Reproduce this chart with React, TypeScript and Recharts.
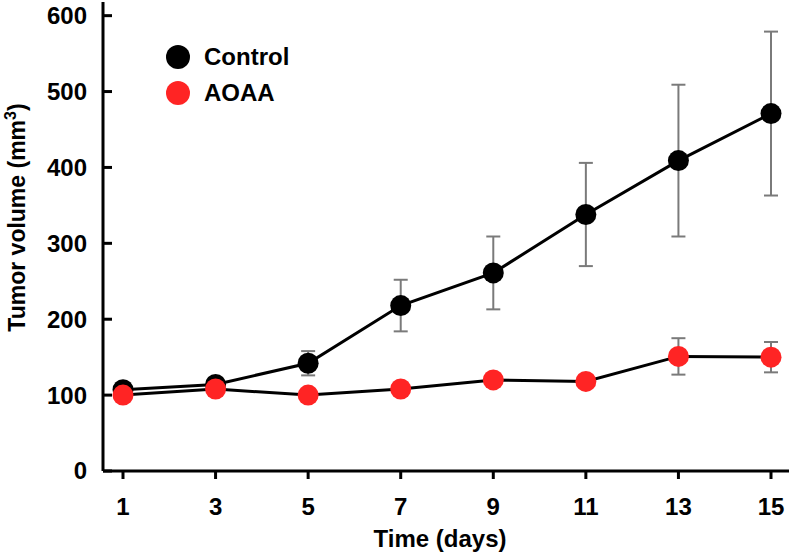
import React from 'react'
import { LineChart, Line, XAxis, YAxis, ErrorBar, Legend } from 'recharts'

const days = [1, 3, 5, 7, 9, 11, 13, 15]
const controlMean = [107, 114, 142, 218, 261, 338, 409, 471]
const controlErr = [4, 5, 16, 34, 48, 68, 100, 108]
const aoaaMean = [100, 108, 100, 108, 120, 118, 151, 150]
const aoaaErr = [3, 4, 3, 4, 5, 4, 24, 20]
const yTicks = [0, 100, 200, 300, 400, 500, 600]

const seriesNames = ['Control', 'AOAA']
const seriesColors = ['#000000', '#ff2424']

const FONT = '"Liberation Sans", Arial, Helvetica, sans-serif'

const data = days.map((day, i) => ({
  day,
  control: controlMean[i],
  controlErr: controlErr[i],
  aoaa: aoaaMean[i],
  aoaaErr: aoaaErr[i],
}))

function YTick(props: any) {
  const { x, y, payload } = props
  return (
    <g>
      <line x1={x + 16} x2={x + 25} y1={y} y2={y} stroke="#000" strokeWidth={3} />
      <text x={x} y={y} dy="0.35em" textAnchor="end" fontSize={24} fontWeight="bold" fontFamily={FONT} fill="#000">
        {payload.value}
      </text>
    </g>
  )
}

function YTitle(props: any) {
  const vb = props.viewBox || { x: 0, y: 2, width: 103, height: 469 }
  const cx = 25
  const cy = vb.y + vb.height / 2 - 19
  return (
    <text
      x={cx}
      y={cy}
      transform={`rotate(-90 ${cx} ${cy})`}
      textAnchor="middle"
      fontSize={23}
      fontWeight="bold"
      fontFamily={FONT}
      fill="#000"
    >
      Tumor volume (mm<tspan fontSize={16} dy={-9}>3</tspan><tspan dy={9}>)</tspan>
    </text>
  )
}

function XTitle(props: any) {
  const vb = props.viewBox || { x: 103, y: 471, width: 686, height: 85 }
  return (
    <text
      x={vb.x + vb.width / 2 - 6}
      y={vb.y + vb.height - 9}
      textAnchor="middle"
      fontSize={24}
      fontWeight="bold"
      fontFamily={FONT}
      fill="#000"
    >
      Time (days)
    </text>
  )
}

function LegendBox() {
  return (
    <div style={{ fontFamily: FONT, fontWeight: 'bold', fontSize: 24, color: '#000' }}>
      {seriesNames.map((name, i) => (
        <div key={name} style={{ display: 'flex', alignItems: 'center', height: 36 }}>
          <span
            style={{
              display: 'inline-block',
              width: 24,
              height: 24,
              borderRadius: 12,
              background: seriesColors[i],
              marginRight: 14,
            }}
          />
          <span>{name}</span>
        </div>
      ))}
    </div>
  )
}

export default function App() {
  return (
    <div style={{ position: 'absolute', left: 0, top: 0, fontFamily: FONT, background: '#fff' }}>
      <LineChart width={792} height={556} data={data} margin={{ top: 2, right: 3, bottom: 0, left: 0 }}>
        <XAxis
          type="number"
          dataKey="day"
          domain={[1, 15]}
          ticks={days}
          padding={{ left: 20, right: 18 }}
          height={85}
          tickSize={8}
          tickMargin={19}
          axisLine={{ stroke: '#000', strokeWidth: 3 }}
          tickLine={{ stroke: '#000', strokeWidth: 3 }}
          tick={{ fontSize: 24, fontWeight: 'bold', fill: '#000', fontFamily: FONT }}
          label={<XTitle />}
        />
        <YAxis
          type="number"
          domain={[0, 618]}
          ticks={yTicks}
          width={103}
          tickSize={8}
          tickMargin={8}
          axisLine={{ stroke: '#000', strokeWidth: 3 }}
          tickLine={false}
          tick={<YTick />}
          label={<YTitle />}
        />
        <Legend
          layout="vertical"
          align="center"
          verticalAlign="middle"
          wrapperStyle={{ left: 166, top: 39, width: 'auto' }}
          content={() => <LegendBox />}
        />
        <Line
          dataKey="control"
          name="Control"
          stroke="#000"
          strokeWidth={3}
          dot={{ r: 10.5, fill: seriesColors[0], stroke: 'none' }}
          activeDot={false}
          isAnimationActive={false}
        >
          <ErrorBar dataKey="controlErr" direction="y" width={7} stroke="#7a7a7a" strokeWidth={2} />
        </Line>
        <Line
          dataKey="aoaa"
          name="AOAA"
          stroke="#000"
          strokeWidth={3}
          dot={{ r: 10.5, fill: seriesColors[1], stroke: 'none' }}
          activeDot={false}
          isAnimationActive={false}
        >
          <ErrorBar dataKey="aoaaErr" direction="y" width={7} stroke="#7a7a7a" strokeWidth={2} />
        </Line>
      </LineChart>
    </div>
  )
}
